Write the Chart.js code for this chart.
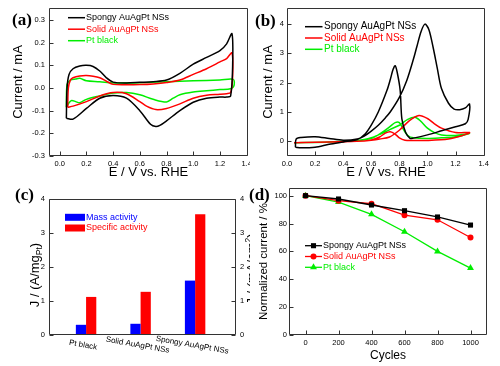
<!DOCTYPE html>
<html><head><meta charset="utf-8">
<script src="https://cdn.jsdelivr.net/npm/chart.js@4.4.1/dist/chart.umd.min.js"></script>
<style>
html,body{margin:0;padding:0;background:#fff;}
#wrap{position:relative;width:500px;height:366px;overflow:hidden;background:#fff;}
canvas{position:absolute;}
.lbl{position:absolute;font-family:'Liberation Serif','Times New Roman',serif;font-weight:bold;font-size:17px;line-height:17px;color:#000;}
</style></head><body>
<div id="wrap">
<canvas id="ca" width="250" height="183" style="left:0;top:0"></canvas>
<canvas id="cb" width="250" height="183" style="left:250px;top:0"></canvas>
<canvas id="cc" width="250" height="183" style="left:0;top:183px"></canvas>
<canvas id="cd" width="250" height="183" style="left:250px;top:183px"></canvas>
<div class="lbl" style="left:12px;top:11px">(a)</div>
<div class="lbl" style="left:255px;top:12px">(b)</div>
<div class="lbl" style="left:15px;top:186px">(c)</div>
<div class="lbl" style="left:249px;top:186px">(d)</div>
</div>
<script>
// ---------------- data ----------------
const seriesNames = ['Spongy AuAgPt NSs', 'Solid AuAgPt NSs', 'Pt black'];

// (a) CV in H2SO4: [E (V vs RHE), current (mA)]
const aTicksX = [0, 0.2, 0.4, 0.6, 0.8, 1.0, 1.2, 1.4];
const aTicksY = [-0.3, -0.2, -0.1, 0, 0.1, 0.2, 0.3];
const aSpongy = [[0.05,-0.133],[0.055,0.0],[0.07,0.06],[0.1,0.085],[0.15,0.097],[0.2,0.1],[0.25,0.095],[0.3,0.075],[0.35,0.045],[0.4,0.026],[0.5,0.022],[0.6,0.025],[0.7,0.028],[0.8,0.035],[0.9,0.065],[1.0,0.105],[1.1,0.135],[1.2,0.165],[1.25,0.195],[1.29,0.24],[1.295,0.1],[1.28,-0.035],[1.25,-0.04],[1.2,-0.04],[1.1,-0.045],[1.0,-0.063],[0.9,-0.1],[0.8,-0.145],[0.75,-0.165],[0.72,-0.17],[0.68,-0.16],[0.6,-0.1],[0.5,-0.045],[0.4,-0.033],[0.3,-0.045],[0.2,-0.09],[0.1,-0.137],[0.05,-0.133]];
const aSolid = [[0.06,-0.085],[0.065,0.0],[0.08,0.035],[0.1,0.045],[0.15,0.053],[0.2,0.055],[0.25,0.052],[0.3,0.045],[0.35,0.03],[0.4,0.016],[0.5,0.014],[0.6,0.015],[0.7,0.018],[0.8,0.024],[0.9,0.035],[1.0,0.06],[1.1,0.085],[1.2,0.115],[1.25,0.13],[1.29,0.155],[1.295,0.05],[1.28,-0.02],[1.25,-0.025],[1.2,-0.028],[1.1,-0.032],[1.0,-0.045],[0.9,-0.07],[0.8,-0.09],[0.72,-0.095],[0.65,-0.08],[0.6,-0.06],[0.5,-0.025],[0.4,-0.02],[0.3,-0.035],[0.2,-0.06],[0.1,-0.08],[0.06,-0.085]];
const aPtBlack = [[0.05,-0.085],[0.055,0.015],[0.08,0.035],[0.12,0.04],[0.15,0.043],[0.2,0.032],[0.3,0.028],[0.4,0.022],[0.6,0.023],[0.8,0.028],[1.0,0.032],[1.2,0.035],[1.3,0.038],[1.305,0.01],[1.28,-0.003],[1.2,-0.007],[1.1,-0.012],[1.0,-0.018],[0.9,-0.03],[0.85,-0.045],[0.8,-0.062],[0.7,-0.05],[0.6,-0.03],[0.5,-0.02],[0.4,-0.022],[0.3,-0.035],[0.2,-0.05],[0.15,-0.065],[0.12,-0.06],[0.09,-0.055],[0.07,-0.065],[0.05,-0.085]];

// (b) CV in methanol: [E, current (mA)]
const bTicksX = [0, 0.2, 0.4, 0.6, 0.8, 1.0, 1.2, 1.4];
const bTicksY = [0, 1, 2, 3, 4];
const bSpongy = [[0.06,-0.2],[0.065,0.08],[0.1,0.13],[0.2,0.16],[0.3,0.1],[0.4,0.04],[0.5,0.08],[0.55,0.18],[0.6,0.35],[0.65,0.55],[0.7,0.8],[0.735,1.0],[0.8,1.5],[0.853,2.08],[0.9,2.8],[0.924,3.22],[0.955,3.75],[0.982,4.0],[1.01,3.82],[1.04,3.22],[1.07,2.5],[1.1,1.8],[1.15,1.3],[1.19,1.1],[1.23,1.08],[1.27,1.14],[1.3,1.27],[1.29,0.75],[1.27,0.6],[1.2,0.5],[1.1,0.36],[1.0,0.22],[0.9,0.11],[0.876,0.1],[0.845,0.3],[0.818,0.77],[0.806,1.74],[0.785,2.35],[0.77,2.58],[0.755,2.45],[0.735,2.1],[0.712,1.74],[0.65,1.0],[0.6,0.55],[0.558,0.26],[0.5,0.06],[0.4,-0.02],[0.3,-0.1],[0.2,-0.2],[0.1,-0.22],[0.06,-0.2]];
const bSolid = [[0.05,-0.05],[0.2,-0.03],[0.4,-0.02],[0.5,0.0],[0.6,0.04],[0.66,0.08],[0.73,0.15],[0.8,0.38],[0.87,0.7],[0.94,0.88],[1.0,0.78],[1.05,0.6],[1.1,0.45],[1.2,0.3],[1.3,0.3],[1.25,0.2],[1.15,0.08],[1.0,0.03],[0.9,0.03],[0.84,0.04],[0.8,0.12],[0.77,0.25],[0.735,0.33],[0.7,0.28],[0.66,0.15],[0.6,0.05],[0.5,0.0],[0.3,-0.02],[0.1,-0.04],[0.05,-0.05]];
const bPtBlack = [[0.05,-0.05],[0.3,-0.02],[0.5,0.03],[0.55,0.06],[0.6,0.12],[0.65,0.22],[0.7,0.32],[0.735,0.41],[0.8,0.55],[0.86,0.75],[0.91,0.82],[0.95,0.7],[1.0,0.45],[1.05,0.3],[1.1,0.22],[1.2,0.2],[1.3,0.27],[1.2,0.15],[1.1,0.12],[1.0,0.1],[0.9,0.12],[0.86,0.2],[0.83,0.4],[0.8,0.64],[0.77,0.64],[0.735,0.51],[0.7,0.38],[0.65,0.22],[0.6,0.1],[0.5,0.03],[0.3,-0.02],[0.05,-0.05]];

// (c) activities
const cCategories = ['Pt black', 'Solid AuAgPt NSs', 'Spongy AuAgPt NSs'];
const cMass = [0.3, 0.33, 1.6];        // A/mg_Pt
const cSpecific = [1.12, 1.27, 3.55];  // mA/cm2
const cTicksY = [0, 1, 2, 3, 4];
const cBarNames = ['Mass activity', 'Specific activity'];

// (d) stability
const dCycles = [0, 200, 400, 600, 800, 1000];
const dSpongy = [100, 97.6, 93.3, 89.2, 84.7, 78.9];
const dSolid = [100, 96.4, 94.2, 86, 82.7, 70];
const dPtBlack = [100, 95.4, 86.6, 74.1, 60, 48];
const dTicksX = [0, 200, 400, 600, 800, 1000];
const dTicksY = [0, 20, 40, 60, 80, 100];

// ---------------- styling helpers ----------------
const FONT = "'Liberation Sans', Arial, Helvetica, sans-serif";
Chart.defaults.font.family = FONT;
Chart.defaults.color = '#000';
const BLACK = '#000000', RED = '#ff0000', GREEN = '#00ee00', BLUE = '#0000ff';
const AXIS = '#333333';

function xScale(o) {
  return {
    type: 'linear', position: 'bottom', min: o.min, max: o.max, offset: false,
    grid: {display: false, drawTicks: false}, border: {display: false},
    afterBuildTicks: s => { s.ticks = o.ticks.map(v => ({value: v})); },
    afterFit: s => { s.height = o.height; s.paddingLeft = 0; s.paddingRight = 0; },
    ticks: {font: {size: 7.5}, color: '#000', padding: o.pad, autoSkip: false, maxRotation: 0, minRotation: 0, callback: o.fmt},
    title: o.title ? {display: true, text: o.title, color: '#000', font: {size: o.titleSize}, padding: {top: 0, bottom: o.titlePad}} : {display: false}
  };
}
function yScale(o) {
  return {
    type: 'linear', position: o.position || 'left', min: o.min, max: o.max,
    grid: {display: false, drawTicks: false}, border: {display: false},
    afterBuildTicks: s => { s.ticks = o.ticks.map(v => ({value: v})); },
    afterFit: s => { s.width = o.width; s.paddingTop = 0; s.paddingBottom = 0; },
    ticks: {font: {size: 7.5}, color: '#000', padding: o.pad, autoSkip: false, callback: o.fmt},
    title: o.title ? {display: true, text: o.title, color: '#000', font: {size: o.titleSize}, padding: {top: o.titlePad, bottom: 0}} : {display: false}
  };
}
function base(padding, frameTicks, scales) {
  return {
    responsive: false, animation: false, devicePixelRatio: 1,
    layout: {padding},
    plugins: {legend: {display: false}, tooltip: {enabled: false}, frame: {ticks: frameTicks}},
    scales
  };
}
// frame box + inward tick marks
const frame = {
  id: 'frame',
  afterDatasetsDraw(chart, args, opts) {
    const {ctx, chartArea: ca} = chart;
    ctx.save();
    ctx.strokeStyle = AXIS; ctx.lineWidth = 1;
    const L = Math.round(ca.left) + 0.5, R = Math.round(ca.right) - 0.5;
    const T = Math.round(ca.top) + 0.5, B = Math.round(ca.bottom) - 0.5;
    ctx.beginPath(); ctx.rect(L, T, R - L, B - T); ctx.stroke();
    const len = 4;
    String(opts.ticks || '').split(',').filter(Boolean).forEach(spec => {
      const [id, side] = spec.split(':');
      const s = chart.scales[id];
      s.ticks.forEach(t => {
        const p = Math.round(s.getPixelForValue(t.value)) + 0.5;
        ctx.beginPath();
        if (side === 'bottom') { ctx.moveTo(p, B); ctx.lineTo(p, B - len); }
        else if (side === 'left') { ctx.moveTo(L, p); ctx.lineTo(L + len, p); }
        else if (side === 'right') { ctx.moveTo(R, p); ctx.lineTo(R - len, p); }
        ctx.stroke();
      });
    });
    ctx.restore();
  }
};
function drawMarker(ctx, style, x, y, r, col) {
  ctx.fillStyle = col; ctx.beginPath();
  if (style === 'rect') { const s = r * Math.SQRT1_2; ctx.rect(x - s, y - s, 2 * s, 2 * s); }
  else if (style === 'triangle') { ctx.moveTo(x, y - r); ctx.lineTo(x + r * 0.866, y + r * 0.5); ctx.lineTo(x - r * 0.866, y + r * 0.5); ctx.closePath(); }
  else ctx.arc(x, y, r, 0, Math.PI * 2);
  ctx.fill();
}
// legend drawn inside the plot area
function inLegend(cfg) {
  return {
    id: 'inLegend',
    afterDatasetsDraw(chart) {
      const ctx = chart.ctx;
      ctx.save();
      ctx.font = cfg.size + 'px ' + FONT; ctx.textBaseline = 'middle'; ctx.textAlign = 'left';
      chart.data.datasets.forEach((ds, i) => {
        const y = cfg.y0 + i * cfg.dy;
        const col = cfg.kind === 'box' ? ds.backgroundColor : ds.borderColor;
        if (cfg.kind === 'box') {
          ctx.fillStyle = col; ctx.fillRect(cfg.x0, y - cfg.bh / 2, cfg.x1 - cfg.x0, cfg.bh);
        } else {
          ctx.strokeStyle = col; ctx.lineWidth = cfg.lw;
          ctx.beginPath(); ctx.moveTo(cfg.x0, y); ctx.lineTo(cfg.x1, y); ctx.stroke();
          if (cfg.markers) drawMarker(ctx, ds.pointStyle, (cfg.x0 + cfg.x1) / 2, y, ds.pointRadius, col);
        }
        ctx.fillStyle = col;
        ctx.fillText(ds.label, cfg.tx, y);
      });
      ctx.restore();
    }
  };
}
function cvSet(label, pairs, col) {
  return {label, data: pairs.map(([x, y]) => ({x, y})), borderColor: col, backgroundColor: col,
    borderWidth: 1.5, pointRadius: 0, showLine: true, tension: 0.3, fill: false};
}
const f1 = v => Number(v).toFixed(1);
const f0 = v => String(v);

// ---------------- (a) ----------------
new Chart(document.getElementById('ca'), {
  type: 'scatter',
  data: {datasets: [cvSet(seriesNames[0], aSpongy, BLACK), cvSet(seriesNames[1], aSolid, RED), cvSet(seriesNames[2], aPtBlack, GREEN)]},
  options: base({left: 0, right: 2, top: 8, bottom: 0}, 'x:bottom,y:left', {
    x: xScale({min: -0.08, max: 1.41, ticks: aTicksX, height: 27, pad: 3, fmt: f1, title: 'E / V vs. RHE', titleSize: 13, titlePad: 3}),
    y: yScale({min: -0.3, max: 0.353, ticks: aTicksY, width: 49, pad: 4, fmt: f1, title: 'Current / mA', titleSize: 13, titlePad: 11})
  }),
  plugins: [frame, inLegend({x0: 68, x1: 85, tx: 86, y0: 17.7, dy: 11.5, size: 9, lw: 1.5})]
});

// ---------------- (b) ----------------
new Chart(document.getElementById('cb'), {
  type: 'scatter',
  data: {datasets: [cvSet(seriesNames[0], bSpongy, BLACK), cvSet(seriesNames[1], bSolid, RED), cvSet(seriesNames[2], bPtBlack, GREEN)]},
  options: base({left: 0, right: 15, top: 8, bottom: 0}, 'x:bottom,y:left', {
    x: xScale({min: 0, max: 1.41, ticks: bTicksX, height: 27, pad: 3, fmt: f1, title: 'E / V vs. RHE', titleSize: 13, titlePad: 3}),
    y: yScale({min: -0.5, max: 4.55, ticks: bTicksY, width: 37, pad: 3, fmt: f0, title: 'Current / mA', titleSize: 13, titlePad: 11})
  }),
  plugins: [frame, inLegend({x0: 55, x1: 72.5, tx: 74, y0: 26.7, dy: 11.3, size: 10, lw: 1.5})]
});

// ---------------- (c) ----------------
function drawRich(ctx, runs, cx, cy) {
  ctx.save();
  ctx.translate(cx, cy); ctx.rotate(-Math.PI / 2);
  ctx.textBaseline = 'alphabetic'; ctx.textAlign = 'left'; ctx.fillStyle = '#000';
  let total = 0;
  runs.forEach(r => { ctx.font = r.s + 'px ' + FONT; r.w = ctx.measureText(r.t).width; total += r.w; });
  let x = -total / 2;
  runs.forEach(r => { ctx.font = r.s + 'px ' + FONT; ctx.fillText(r.t, x, 4.6 + (r.dy || 0)); x += r.w; });
  ctx.restore();
}
const cText = {
  id: 'cText',
  afterDraw(chart) {
    const {ctx, chartArea: ca} = chart;
    const xs = chart.scales.x;
    ctx.save();
    ctx.fillStyle = '#000'; ctx.font = '8px ' + FONT; ctx.textAlign = 'center'; ctx.textBaseline = 'middle';
    cCategories.forEach((lab, i) => {
      const px = xs.getPixelForValue(i) - 3;
      ctx.save(); ctx.translate(px, ca.bottom + 10); ctx.rotate(10 * Math.PI / 180); ctx.fillText(lab, 0, 0); ctx.restore();
    });
    ctx.restore();
    drawRich(ctx, [{t: 'J / (A/mg', s: 13}, {t: 'Pt', s: 8.5, dy: 3}, {t: ')', s: 13}], 34, 92);
    drawRich(ctx, [{t: 'J / (mA/cm', s: 13}, {t: '2', s: 8.5, dy: -5}, {t: ')', s: 13}], 251, 86);
  }
};
new Chart(document.getElementById('cc'), {
  type: 'bar',
  data: {datasets: [
    {label: cBarNames[0], data: cMass.map((v, i) => ({x: i, y: v})), backgroundColor: BLUE, borderWidth: 0, yAxisID: 'y', categoryPercentage: 0.5, barPercentage: 1.0},
    {label: cBarNames[1], data: cSpecific.map((v, i) => ({x: i, y: v})), backgroundColor: RED, borderWidth: 0, yAxisID: 'y1', categoryPercentage: 0.5, barPercentage: 1.0}
  ]},
  options: base({left: 0, right: 0, top: 16, bottom: 31}, 'y:left,y1:right', {
    x: {type: 'linear', min: -0.68, max: 2.75, offset: false, display: false},
    y: yScale({min: 0, max: 4, ticks: cTicksY, width: 49, pad: 4, fmt: f0}),
    y1: yScale({position: 'right', min: 0, max: 4, ticks: cTicksY, width: 14, pad: 4, fmt: f0})
  }),
  plugins: [frame, cText, inLegend({kind: 'box', x0: 65, x1: 85, bh: 7, tx: 86, y0: 34.3, dy: 10.7, size: 9})]
});

// ---------------- (d) ----------------
function stSet(label, vals, col, style, r) {
  return {label, data: dCycles.map((c, i) => ({x: c, y: vals[i]})), borderColor: col, backgroundColor: col,
    pointBackgroundColor: col, pointBorderWidth: 0, pointStyle: style, pointRadius: r, borderWidth: 1.3, showLine: true, tension: 0};
}
new Chart(document.getElementById('cd'), {
  type: 'scatter',
  data: {datasets: [stSet(seriesNames[0], dSpongy, BLACK, 'rect', 3.6), stSet(seriesNames[1], dSolid, RED, 'circle', 3), stSet(seriesNames[2], dPtBlack, GREEN, 'triangle', 4)]},
  options: base({left: 0, right: 13, top: 5, bottom: 0}, 'x:bottom,y:left', {
    x: xScale({min: -100, max: 1100, ticks: dTicksX, height: 31, pad: 3, fmt: f0, title: 'Cycles', titleSize: 12, titlePad: 3}),
    y: yScale({min: 0, max: 105.5, ticks: dTicksY, width: 39, pad: 2, fmt: f0, title: 'Normalized current / %', titleSize: 11.5, titlePad: 7})
  }),
  plugins: [frame, inLegend({x0: 55, x1: 72, tx: 73, y0: 62.7, dy: 10.8, size: 9, lw: 1.3, markers: true})]
});
</script>
</body></html>
